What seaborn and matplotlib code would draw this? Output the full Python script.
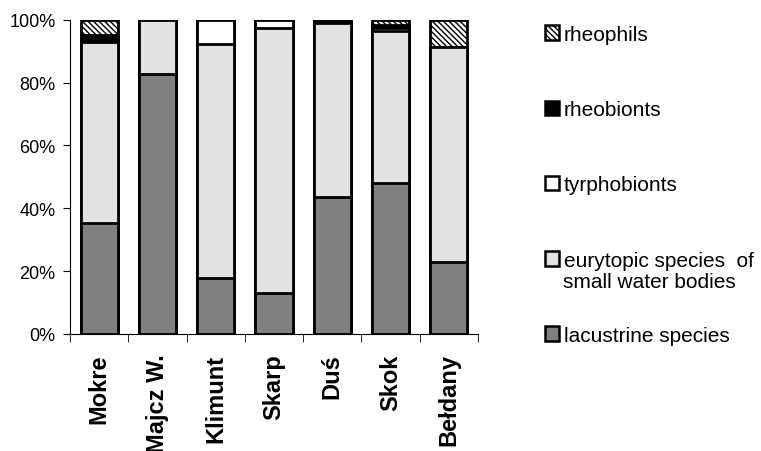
import numpy as np
import pandas as pd
import seaborn as sns
import matplotlib.pyplot as plt
from matplotlib.patches import Patch
from matplotlib.ticker import PercentFormatter

# udzialy grup ekologicznych (%)
sites = ["Mokre", "Majcz W.", "Klimunt", "Skarp", "Duś", "Skok", "Bełdany"]
lacustrine = [35.4, 82.8, 17.8, 13.0, 43.6, 48.0, 23.0]
eurytopic = [57.6, 17.2, 74.6, 84.5, 55.4, 48.3, 68.3]
tyrphobionts = [0.0, 0.0, 7.6, 2.5, 0.0, 1.0, 0.0]
rheobionts = [2.0, 0.0, 0.0, 0.0, 1.0, 1.0, 0.0]
rheophils = [5.0, 0.0, 0.0, 0.0, 0.0, 1.7, 8.7]

groups = ["lacustrine species", "eurytopic species  of",
          "tyrphobionts", "rheobionts", "rheophils"]
colors = ["#808080", "#e2e2e2", "white", "black", "white"]
hatches = [None, None, None, None, "\\\\\\\\\\\\"]

df = pd.DataFrame({"site": sites, "g0": lacustrine, "g1": eurytopic,
                   "g2": tyrphobionts, "g3": rheobionts, "g4": rheophils})
cum = df[["g0", "g1", "g2", "g3", "g4"]].cumsum(axis=1)

sns.set_style("ticks")
plt.rcParams["font.family"] = ["Liberation Sans", "DejaVu Sans"]
plt.rcParams["hatch.linewidth"] = 1.0
plt.rcParams["text.color"] = "black"
plt.rcParams["xtick.color"] = "black"
plt.rcParams["ytick.color"] = "black"

fig = plt.figure(figsize=(7.61, 4.52), dpi=100)
ax = fig.add_axes([0.092, 0.259, 0.536, 0.695])

# rysowanie od gory (najwyzsza skumulowana) do dolu
for i in range(4, -1, -1):
    sns.barplot(x=df["site"], y=cum["g%d" % i], color=colors[i], saturation=1,
                edgecolor="black", linewidth=2, width=0.64, hatch=hatches[i], ax=ax)

ax.set_ylim(0, 100)
ax.set_xlim(-0.5, 6.5)
ax.yaxis.set_major_formatter(PercentFormatter(decimals=0))
ax.set_yticks([0, 20, 40, 60, 80, 100])
ax.set_xlabel("")
ax.set_ylabel("")
ax.set_xticks(np.arange(-0.5, 7, 1), minor=True)
ax.tick_params(axis="x", which="major", length=0, pad=14)
ax.tick_params(axis="x", which="minor", length=6, color="black")
ax.tick_params(axis="y", length=5, pad=5.5, labelsize=13, color="black")
for lab in ax.get_xticklabels():
    lab.set_rotation(90)
    lab.set_fontweight("bold")
    lab.set_fontsize(17)
sns.despine(ax=ax)
ax.spines["left"].set_color("black")
ax.spines["bottom"].set_color("black")

handles = [Patch(facecolor=colors[i], edgecolor="black", linewidth=1.8,
                 hatch=hatches[i], label=groups[i]) for i in range(4, -1, -1)]
fig.legend(handles=handles, loc="upper left", bbox_to_anchor=(0.705, 0.961),
           frameon=False, fontsize=15, labelspacing=2.7, handlelength=0.7,
           handleheight=0.7, handletextpad=0.2, borderaxespad=0)
fig.text(563 / 761, 1 - 283 / 452, "small water bodies", fontsize=15, va="center", ha="left")

fig.savefig("out.png", dpi=100)
